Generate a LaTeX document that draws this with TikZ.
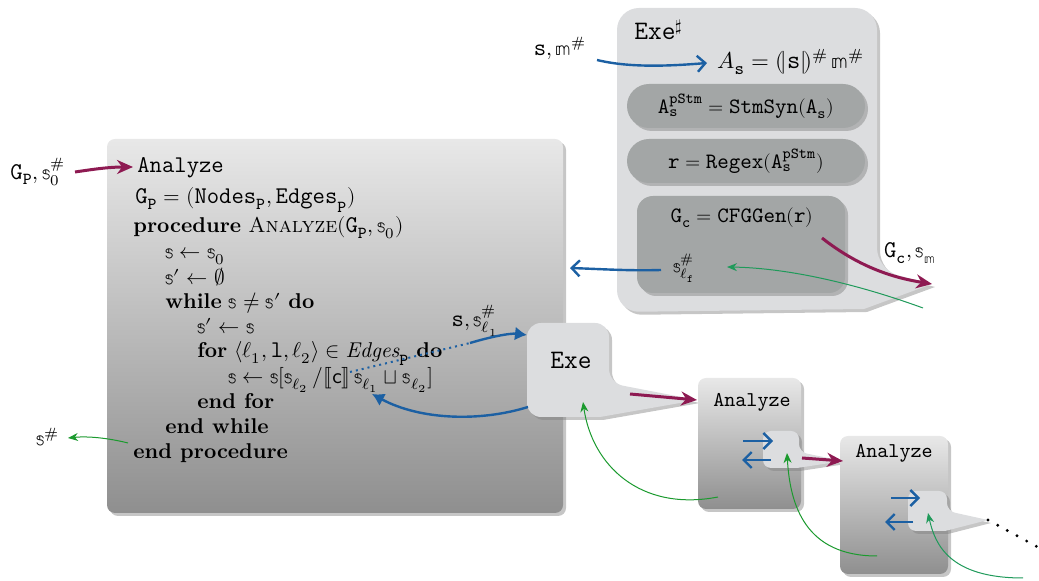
\documentclass[tikz,border=0pt]{standalone}
\usepackage{fontspec}
\usepackage{unicode-math}
\setmathfont{Latin Modern Math}
\setmonofont{Latin Modern Mono}[Scale=1.12]
\usetikzlibrary{shadows,arrows.meta}
\definecolor{cblue}{HTML}{1C60A3}
\definecolor{cmag}{HTML}{8E1A52}
\definecolor{cgreen}{HTML}{1B9A2E}
\definecolor{cgreentwo}{HTML}{1F9A5A}
\definecolor{exefill}{HTML}{DCDDDF}
\definecolor{pillfill}{HTML}{A3A6A6}
\newcommand{\sst}{\mathbb{s}}
\newcommand{\tmm}{\mathbb{m}}
\tikzset{
  shad/.style={drop shadow={shadow xshift=1.5pt,shadow yshift=-1.5pt,opacity=0.45}},
  gradbox/.style={top color=black!9,bottom color=black!44,shad},
  exebox/.style={fill=exefill,shad},
  pillbox/.style={fill=pillfill,shad},
  magarr/.style={draw=cmag,line width=1.5pt,-{Stealth[length=8pt,width=7pt]}},
  bluearr/.style={draw=cblue,line width=1.2pt,-{Straight Barb[length=4pt,width=8pt,line width=1.2pt]}},
  bluetri/.style={draw=cblue,line width=1.2pt,-{Latex[length=6pt,width=7pt]}},
  greenarr/.style={draw=cgreen,line width=0.5pt,-{Stealth[length=5pt,width=4pt]}},
  alg/.style={anchor=base west,inner sep=0pt,font=\fontsize{10.7}{13}\selectfont},
  lbl/.style={inner sep=0pt,font=\fontsize{10.7}{13}\selectfont},
  exetxt/.style={inner sep=0pt,font=\fontsize{9.8}{12}\selectfont},
}
\begin{document}
\begin{tikzpicture}[x=0.5pt,y=-0.5pt]
\useasboundingbox (0,0) rectangle (1039,581);

% ---------- big Analyze box
\path[gradbox,rounded corners=4pt] (107,139) rectangle (563,513);

% ---------- Exe# box with tail
\path[exebox] (747,8) [rounded corners=11pt] -- (877,8) -- (877,270) [sharp corners] -- (932,284) -- (864,309) [rounded corners=11pt] -- (617,312) -- (617,8) -- cycle;
\path[pillbox,rounded corners=11pt] (627,84) rectangle (865,128);
\path[pillbox,rounded corners=11pt] (627,139) rectangle (865,183);
\path[pillbox,rounded corners=8pt] (637,196) rectangle (845,293);

% ---------- small Exe box with tail
\path[exebox] (568,323) [rounded corners=7pt] -- (609,323) -- (609,383) [sharp corners] -- (697,400) -- (600,417) [rounded corners=7pt] -- (527,417) -- (527,323) -- cycle;

% ---------- Analyze box 2
\path[gradbox,rounded corners=4pt] (698,378) rectangle (801,509);
\path[exebox] (780,431) [rounded corners=4pt] -- (799,431) -- (799,452) [sharp corners] -- (843,461) -- (797,468) [rounded corners=4pt] -- (763,468) -- (763,431) -- cycle;

% ---------- Analyze box 3
\path[gradbox,rounded corners=4pt] (840,436) rectangle (948,574);
\path[exebox] (925,491) [rounded corners=4pt] -- (947,491) -- (947,511) [sharp corners] -- (988,520) -- (945,531) [rounded corners=4pt] -- (908,531) -- (908,491) -- cycle;

% ---------- algorithm text
\node[alg] (a1) at (137,173) {\ttfamily Analyze};
\node[alg] (a2) at (135,204) {$\mathtt{G}_{\mathtt{P}} = (\mathtt{Nodes}_{\mathtt{P}}, \mathtt{Edges}_{\mathtt{P}})$};
\node[alg] (a3) at (133,233) {\textbf{procedure} \textsc{Analyze}$(\mathtt{G}_{\mathtt{P}}, \sst_0)$};
\node[alg] (a4) at (165,259) {$\sst \leftarrow \sst_0$};
\node[alg] (a5) at (165,285) {$\sst' \leftarrow \varnothing$};
\node[alg] (a6) at (165,309) {\textbf{while} $\sst \neq \sst'$ \textbf{do}};
\node[alg] (a7) at (197,334) {$\sst' \leftarrow \sst$};
\node[alg] (a8) at (197,358) {\textbf{for} $\langle \ell_1, \mathtt{l}, \ell_2\rangle \in \mathit{Edges}_{\mathtt{P}}$ \textbf{do}};
\node[alg] (a9) at (228,384) {$\sst \leftarrow \sst[\sst_{\ell_2} \,/ \lBrack \mathsf{c} \rBrack\, \sst_{\ell_1} \sqcup \sst_{\ell_2}]$};
\node[alg] (a10) at (197,409) {\textbf{end for}};
\node[alg] (a11) at (165,434) {\textbf{end while}};
\node[alg] (a12) at (133,459) {\textbf{end procedure}};

% ---------- outside labels
\node[lbl] (lgp) at (38,172) {$\mathtt{G}_{\mathtt{P}},\sst_0^{\#}$};
\node[lbl] (lsh) at (48,437) {$\sst^{\#}$};
\node[lbl] (lsl) at (475,321) {$\mathtt{s},\sst_{\ell_1}^{\#}$};
\node[lbl] (lsm) at (560,48) {$\mathtt{s},\tmm^{\#}$};
\node[lbl] (lgc) at (910,253) {$\mathtt{G}_{\mathtt{c}},\sst_{\tmm}$};

% ---------- Exe# contents
\node[anchor=base west,inner sep=0pt,font=\fontsize{11.9}{14}\selectfont\ttfamily] (exeh) at (634,40) {Exe$^{\sharp}$};
\node[inner sep=0pt,font=\fontsize{11.5}{14}\selectfont] (as) at (791,62) {$A_{\mathtt{s}} = (\mkern-3mu|\mathtt{s}|\mkern-3mu)^{\#}\,\tmm^{\#}$};
\node[exetxt] (p1) at (746,106) {$\mathtt{A}_{\mathtt{s}}^{\mathtt{pStm}} = \mathtt{StmSyn}(\mathtt{A}_{\mathtt{s}})$};
\node[exetxt] (p2) at (746,161) {$\mathtt{r} = \mathtt{Regex}(\mathtt{A}_{\mathtt{s}}^{\mathtt{pStm}})$};
\node[exetxt] (p3) at (742,218) {$\mathtt{G}_{\mathtt{c}} = \mathtt{CFGGen}(\mathtt{r})$};
\node[exetxt] (slf) at (684,268) {$\sst_{\ell_{\mathtt{f}}}^{\#}$};

% ---------- small box texts
\node[inner sep=0pt,font=\fontsize{11.9}{14}\selectfont\ttfamily] (exe) at (571,360) {Exe};
\node[inner sep=0pt,font=\fontsize{9.4}{11}\selectfont\ttfamily] (an2) at (752,402) {Analyze};
\node[inner sep=0pt,font=\fontsize{9.4}{11}\selectfont\ttfamily] (an3) at (894,453) {Analyze};

% ---------- coordinates
\coordinate (m1s) at (75,172);   \coordinate (m1e) at (133,167);
\coordinate (m2s) at (822,238);  \coordinate (m2e) at (932,284);
\coordinate (m3s) at (630,394);  \coordinate (m3e) at (697,400);
\coordinate (m4s) at (802,458);  \coordinate (m4e) at (843,461);
\coordinate (b1s) at (597,60);   \coordinate (b1e) at (707,63);
\coordinate (b2s) at (661,270);  \coordinate (b2e) at (570,268);
\coordinate (b3a) at (350,372);  \coordinate (b3b) at (470,343);  \coordinate (b3e) at (527,335);
\coordinate (b4s) at (528,407);  \coordinate (b4e) at (372,394);
\coordinate (c2a) at (743,441);  \coordinate (c2b) at (773,441);
\coordinate (c2c) at (771,460);  \coordinate (c2d) at (742,460);
\coordinate (c3a) at (891,498);  \coordinate (c3b) at (920,498);
\coordinate (c3c) at (913,522);  \coordinate (c3d) at (885,522);
\coordinate (g1s) at (718,497);  \coordinate (g1e) at (583,402);
\coordinate (g2s) at (877,556);  \coordinate (g2e) at (787,453);
\coordinate (g3s) at (1023,578); \coordinate (g3e) at (928,513);
\coordinate (g4s) at (923,308);  \coordinate (g4e) at (727,267);
\coordinate (g5s) at (128,443);  \coordinate (g5e) at (68,438);
\coordinate (dts) at (988,520);  \coordinate (dte) at (1045,551);

% ---------- magenta arrows
\draw[magarr] (m1s) .. controls (95,169) and (110,167) .. (m1e);
\draw[magarr] (m2s) .. controls (860,268) and (895,278) .. (m2e);
\draw[magarr] (m3s) -- (m3e);
\draw[magarr] (m4s) -- (m4e);

% ---------- blue arrows
\draw[bluearr] (b1s) .. controls (630,68) and (670,66) .. (b1e);
\draw[bluearr] (b2s) .. controls (630,271) and (600,269) .. (b2e);
\draw[cblue,line width=1pt,dotted] (b3a) -- (b3b);
\draw[bluetri] (b3b) .. controls (490,337) and (510,333) .. (b3e);
\draw[bluetri] (b4s) .. controls (480,422) and (420,420) .. (b4e);
\draw[bluearr] (c2a) -- (c2b);
\draw[bluearr] (c2c) -- (c2d);
\draw[bluearr] (c3a) -- (c3b);
\draw[bluearr] (c3c) -- (c3d);

% ---------- green arrows
\draw[greenarr] (g1s) .. controls (640,512) and (592,465) .. (g1e);
\draw[greenarr] (g2s) .. controls (805,556) and (790,505) .. (g2e);
\draw[greenarr,draw=cgreentwo] (g3s) .. controls (950,578) and (935,545) .. (g3e);
\draw[greenarr,draw=cgreentwo] (g4s) .. controls (860,285) and (790,268) .. (g4e);
\draw[greenarr] (g5s) .. controls (108,438) and (88,436) .. (g5e);

% ---------- dotted continuation
\draw[line width=1.6pt,line cap=round,dash pattern=on 0pt off 5.5pt] (dts) -- (dte);
\end{tikzpicture}
\end{document}
